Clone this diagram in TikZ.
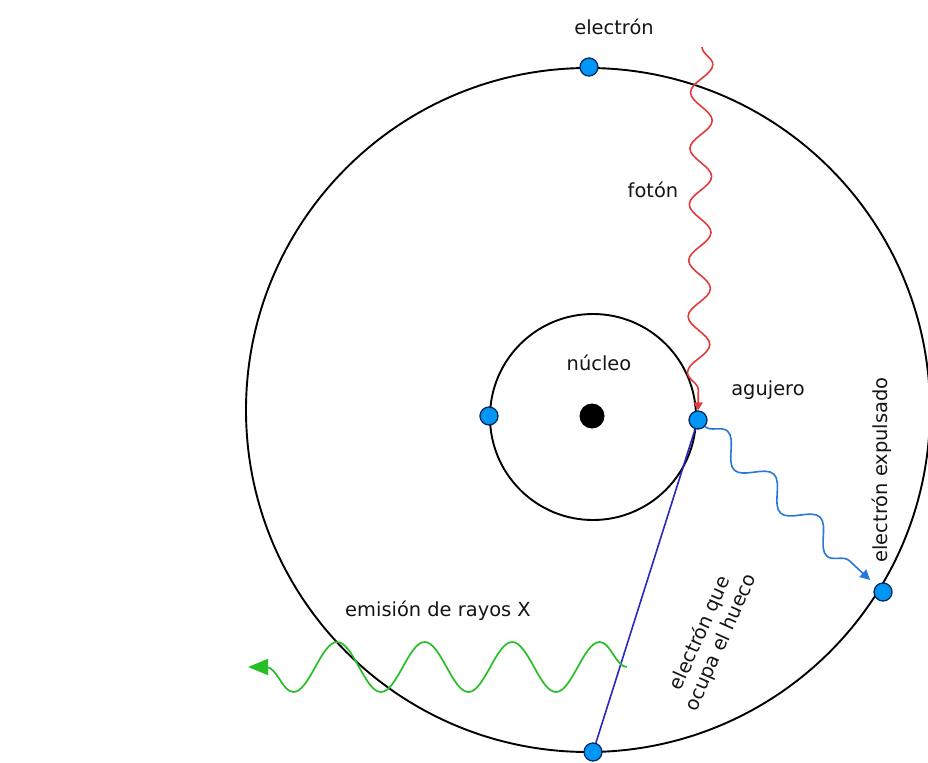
\documentclass[tikz,border=0pt]{standalone}
\usepackage{fontspec}
\setmainfont{DejaVu Sans}
\usetikzlibrary{arrows.meta,decorations.pathmorphing}
\definecolor{dotfill}{RGB}{0,150,245}
\definecolor{dotline}{RGB}{10,40,90}
\definecolor{photon}{RGB}{225,60,60}
\definecolor{ejwave}{RGB}{40,120,220}
\definecolor{xwave}{RGB}{40,190,40}
\definecolor{fillline}{RGB}{40,40,190}
\definecolor{txt}{RGB}{20,20,20}
\tikzset{
  orbit/.style={circle, draw=black, line width=1.9bp, inner sep=0pt},
  edot/.style={circle, fill=dotfill, draw=dotline, line width=1.3bp, minimum size=18bp, inner sep=0pt},
  nucleus/.style={circle, fill=black, minimum size=25bp, inner sep=0pt},
  lbl/.style={text=txt, font=\fontsize{19.5}{23}\selectfont, inner sep=1bp},
  photonw/.style={draw=photon, line width=1.6bp, decorate,
    decoration={snake, amplitude=11bp, segment length=56bp, post length=6bp},
    -{Triangle[length=8bp,width=9bp]}},
  ejectw/.style={draw=ejwave, line width=1.6bp, decorate,
    decoration={snake, amplitude=12bp, segment length=63bp, post length=8bp},
    -{Triangle[length=10bp,width=10bp]}},
  xrayw/.style={draw=xwave, line width=1.7bp, decorate,
    decoration={snake, mirror, amplitude=25bp, segment length=87.5bp, post length=12bp},
    -{Triangle[length=20bp,width=16bp]}},
  hole/.style={draw=fillline, line width=1.6bp}
}
\begin{document}
\begin{tikzpicture}[x=1bp,y=-1bp]
\useasboundingbox (0,0) rectangle (928,763);
% orbits
\node[orbit, minimum size=684bp] (outer) at (588,410) {};
\node[orbit, minimum size=206bp] (inner) at (593,417) {};
\node[nucleus] (nuc) at (592,416) {};
% electrons
\node[edot] (eTop) at (589,67) {};
\node[edot] (eLeft) at (489,416) {};
\node[edot] (eHole) at (698,420) {};
\node[edot] (eOut) at (883,592) {};
\node[edot] (eBot) at (593,752) {};
% coordinates for free ends
\coordinate (phStart) at (702,47);
\coordinate (xStart) at (627,667);
\coordinate (xEnd) at (248,667);
% connectors
\draw[hole] (eHole) -- (eBot);
\draw[photonw] (phStart) -- (eHole);
\draw[ejectw, shorten >=8bp] (eHole) -- (eOut);
\draw[xrayw] (xStart) -- (xEnd);
% labels
\node[lbl] (tElectron) at (614,27) {electrón};
\node[lbl] (tFoton) at (653,190) {fotón};
\node[lbl] (tNucleo) at (599,363) {núcleo};
\node[lbl] (tAgujero) at (768,390) {agujero};
\node[lbl, rotate=90] (tExp) at (882,470) {electrón expulsado};
\node[lbl, rotate=66, align=center] (tOcupa) at (711,638) {electrón que\\ocupa el hueco};
\node[lbl] (tRayos) at (438,611) {emisión de rayos X};
\end{tikzpicture}
\end{document}
